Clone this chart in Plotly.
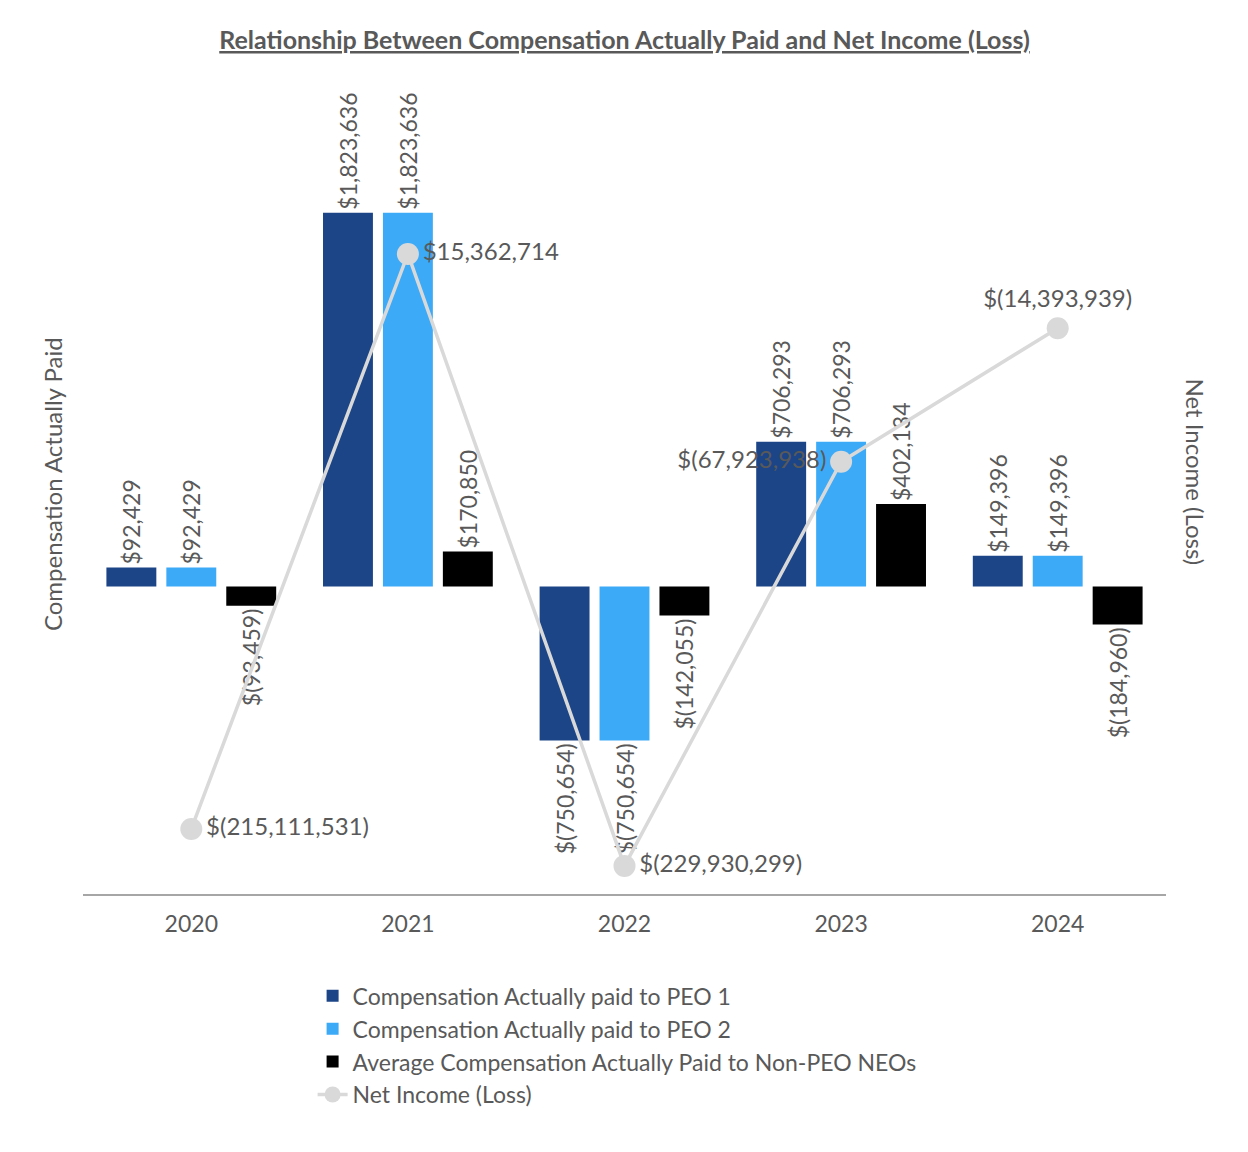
import plotly.graph_objects as go

# Chart values
years = ["2020", "2021", "2022", "2023", "2024"]
peo1_cap = [92429, 1823636, -750654, 706293, 149396]
peo2_cap = [92429, 1823636, -750654, 706293, 149396]
neo_avg_cap = [-93459, 170850, -142055, 402134, -184960]
net_income = [-215111531, 15362714, -229930299, -67923938, -14393939]

GRAY_TEXT = "#595959"
FONT = "Lato"


def money(v):
    s = f"{abs(v):,}"
    return f"$({s})" if v < 0 else f"${s}"


fig = go.Figure()

bar_series = [
    ("Compensation Actually paid to PEO 1", peo1_cap, "#1C4587"),
    ("Compensation Actually paid to PEO 2", peo2_cap, "#3DAAF7"),
    ("Average Compensation Actually Paid to Non-PEO NEOs", neo_avg_cap, "#000000"),
]
for name, vals, color in bar_series:
    fig.add_trace(go.Bar(
        x=years, y=vals, name=name,
        marker=dict(color=color, line=dict(width=0)),
        text=[money(v) for v in vals],
        textposition="outside",
        textangle=-90,
        constraintext="none",
        cliponaxis=False,
        textfont=dict(family=FONT, size=23, color=GRAY_TEXT),
    ))

fig.add_trace(go.Scatter(
    x=years, y=net_income, name="Net Income (Loss)",
    yaxis="y2", mode="lines+markers+text",
    line=dict(color="#D9D9D9", width=3.5),
    marker=dict(color="#D9D9D9", size=22),
    text=[money(v) for v in net_income],
    textposition=["middle right", "middle right", "middle right", "middle left", "top center"],
    textfont=dict(family=FONT, size=24, color=GRAY_TEXT),
    cliponaxis=False,
))

fig.update_layout(
    width=1248, height=1152,
    paper_bgcolor="white", plot_bgcolor="white",
    margin=dict(l=75, r=90, t=66, b=266),
    font=dict(family=FONT, size=23, color=GRAY_TEXT),
    barmode="group", bargap=0.17, bargroupgap=0.167,
    showlegend=True,
    legend=dict(
        x=0.212, y=-0.098, xanchor="left", yanchor="top",
        font=dict(family=FONT, size=23, color=GRAY_TEXT),
        traceorder="normal", tracegroupgap=0, itemwidth=30,
    ),
    title=dict(
        text="<b><u>Relationship Between Compensation Actually Paid and Net Income (Loss)</u></b>",
        xref="paper", x=0.5, xanchor="center", y=0.972, yanchor="middle",
        font=dict(family=FONT, size=25, color=GRAY_TEXT),
    ),
    xaxis=dict(
        range=[-0.5, 4.5], showgrid=False, ticks="",
        showline=True, linecolor="#A6A6A6", linewidth=2,
        ticklabelstandoff=8,
        tickfont=dict(family=FONT, size=23, color=GRAY_TEXT),
    ),
    yaxis=dict(
        range=[-1500000, 2500000], showgrid=False, zeroline=False,
        showticklabels=False, showline=False,
    ),
    yaxis2=dict(
        range=[-241200000, 87500000], overlaying="y", side="right",
        showgrid=False, zeroline=False, showticklabels=False, showline=False,
    ),
    annotations=[
        dict(text="Compensation Actually Paid", xref="paper", yref="paper",
             x=-0.0286, y=0.5, xanchor="center", yanchor="middle",
             textangle=-90, showarrow=False,
             font=dict(family=FONT, size=24, color=GRAY_TEXT)),
        dict(text="Net Income (Loss)", xref="paper", yref="paper",
             x=1.027, y=0.515, xanchor="center", yanchor="middle",
             textangle=90, showarrow=False,
             font=dict(family=FONT, size=24, color=GRAY_TEXT)),
    ],
)

fig.write_html("out.html")
